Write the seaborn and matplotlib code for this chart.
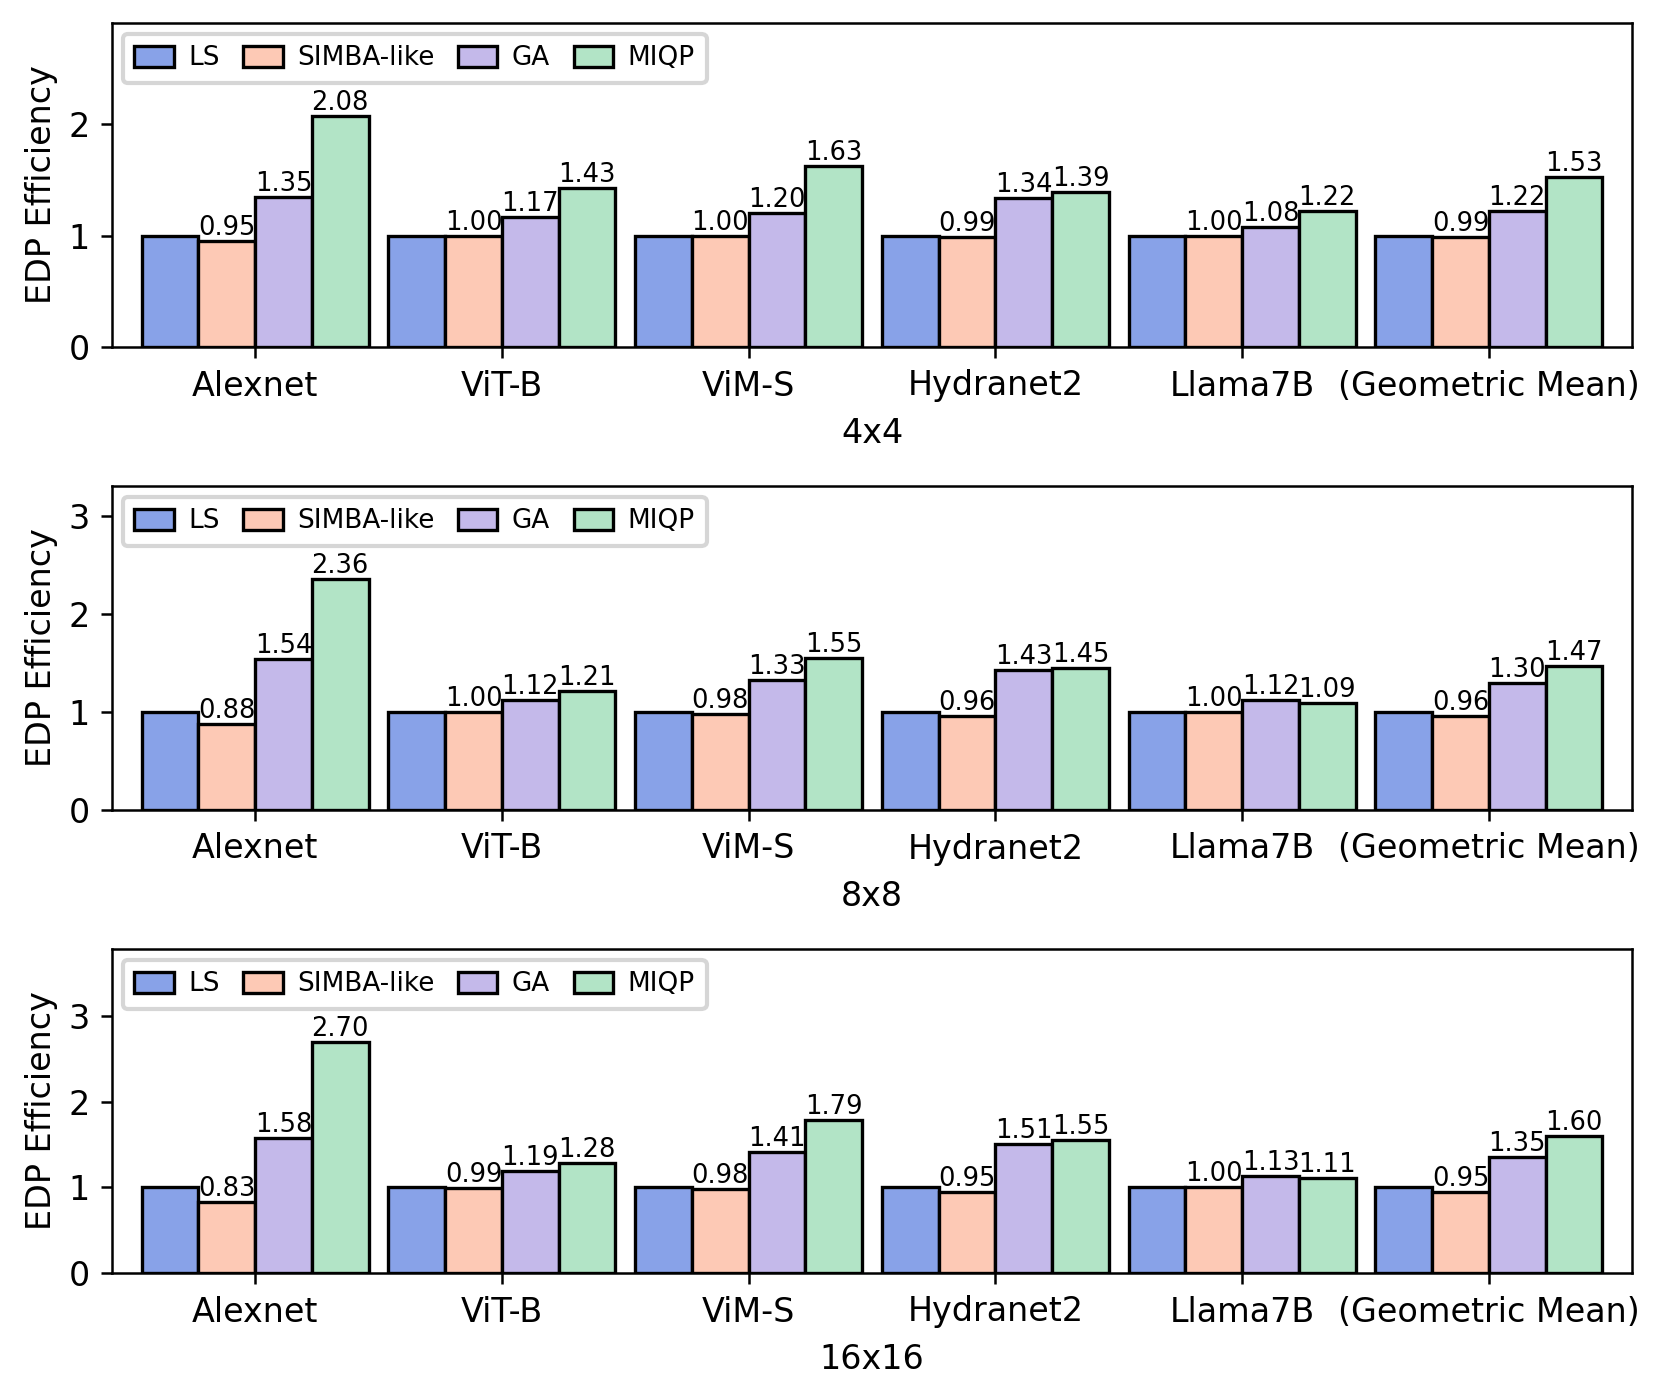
import matplotlib
matplotlib.use('Agg')
import matplotlib.pyplot as plt
import pandas as pd
import seaborn as sns

# %% data
workloads = ['Alexnet', 'ViT-B', 'ViM-S', 'Hydranet2', 'Llama7B', '(Geometric Mean)']
methods = ['LS', 'SIMBA-like', 'GA', 'MIQP']
meshes = ['4x4', '8x8', '16x16']

ls_4 = [1.00, 1.00, 1.00, 1.00, 1.00, 1.00]
simba_4 = [0.95, 1.00, 1.00, 0.99, 1.00, 0.99]
ga_4 = [1.35, 1.17, 1.20, 1.34, 1.08, 1.22]
miqp_4 = [2.08, 1.43, 1.63, 1.39, 1.22, 1.53]

ls_8 = [1.00, 1.00, 1.00, 1.00, 1.00, 1.00]
simba_8 = [0.88, 1.00, 0.98, 0.96, 1.00, 0.96]
ga_8 = [1.54, 1.12, 1.33, 1.43, 1.12, 1.30]
miqp_8 = [2.36, 1.21, 1.55, 1.45, 1.09, 1.47]

ls_16 = [1.00, 1.00, 1.00, 1.00, 1.00, 1.00]
simba_16 = [0.83, 0.99, 0.98, 0.95, 1.00, 0.95]
ga_16 = [1.58, 1.19, 1.41, 1.51, 1.13, 1.35]
miqp_16 = [2.70, 1.28, 1.79, 1.55, 1.11, 1.60]

colors = ['#88a2e8', '#fdc9b5', '#c4b9ea', '#b2e4c6']

series = {
    '4x4': [ls_4, simba_4, ga_4, miqp_4],
    '8x8': [ls_8, simba_8, ga_8, miqp_8],
    '16x16': [ls_16, simba_16, ga_16, miqp_16],
}

# %% plot
fig = plt.figure(figsize=(1661 / 300, 1394 / 300), dpi=300)
plt.rcParams['font.family'] = ['DejaVu Sans']

left, width = 112 / 1661, (1632 - 112) / 1661
tops = [23, 486, 949]
h = 324

for mesh, top in zip(meshes, tops):
    ax = fig.add_axes([left, 1 - (top + h) / 1394, width, h / 1394])
    rows = []
    for m, vals in zip(methods, series[mesh]):
        for w, v in zip(workloads, vals):
            rows.append({'workload': w, 'method': m, 'value': v})
    df = pd.DataFrame(rows)
    sns.barplot(data=df, x='workload', y='value', hue='method', hue_order=methods,
                palette=colors, saturation=1, width=0.92, edgecolor='black',
                linewidth=0.8, errorbar=None, ax=ax)
    for c in ax.containers[1:]:
        ax.bar_label(c, fmt='%.2f', fontsize=6.2, padding=0)
    ymax = max(max(v) for v in series[mesh])
    ax.set_ylim(0, ymax * 1.4)
    ax.set_xlim(-0.58, 5.58)
    ax.set_ylabel('EDP Efficiency', fontsize=8, labelpad=2.5)
    ax.set_xlabel(mesh, fontsize=8, labelpad=3.5)
    ax.tick_params(labelsize=8, width=0.6, length=2.6, pad=2.8)
    for s in ax.spines.values():
        s.set_linewidth(0.6)
    ax.legend(loc='upper left', ncol=4, fontsize=6.3, columnspacing=0.9,
              handlelength=1.5, handleheight=0.85, handletextpad=0.55,
              borderpad=0.45, borderaxespad=0.4)

fig.savefig('out.png', dpi=300)
